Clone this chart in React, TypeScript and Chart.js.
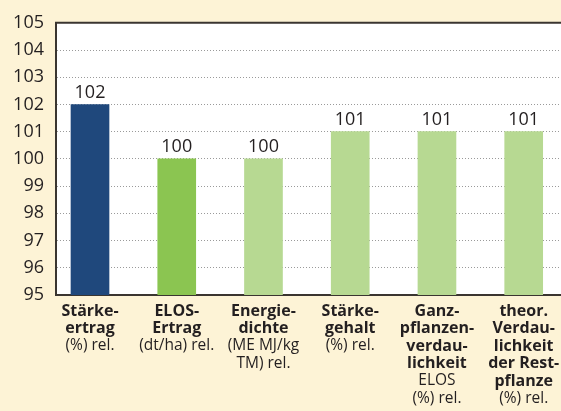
import React, { useEffect, useRef } from "react";
import { Chart, registerables } from "chart.js";

Chart.register(...registerables);

const values = [102, 100, 100, 101, 101, 101];
const barColors = ["#1f487c", "#8bc551", "#b7d992", "#b7d992", "#b7d992", "#b7d992"];
const boldLines = [
  ["Stärke-", "ertrag"],
  ["ELOS-", "Ertrag"],
  ["Energie-", "dichte"],
  ["Stärke-", "gehalt"],
  ["Ganz-", "pflanzen-", "verdau-", "lichkeit"],
  ["theor.", "Verdau-", "lichkeit", "der Rest-", "pflanze"],
];
const normalLines = [
  ["(%) rel."],
  ["(dt/ha) rel."],
  ["(ME MJ/kg", "TM) rel."],
  ["(%) rel."],
  ["ELOS", "(%) rel."],
  ["(%) rel."],
];
const yMin = 95;
const yMax = 105;

const FONT = "'Open Sans', sans-serif";
const TEXT = "#231f20";

export default function App() {
  const ref = useRef<HTMLCanvasElement>(null);
  useEffect(() => {
    document.body.style.margin = "0";
    const canvas = ref.current!;
    const bgPlugin = {
      id: "bg",
      beforeDraw(chart: any) {
        const { ctx, chartArea: a, width, height } = chart;
        ctx.save();
        ctx.fillStyle = "#fdf3d6";
        ctx.fillRect(0, 0, width, height);
        ctx.fillStyle = "#ffffff";
        ctx.fillRect(a.left, a.top, a.right - a.left, a.bottom - a.top);
        ctx.restore();
      },
      afterDraw(chart: any) {
        const { ctx, chartArea: a } = chart;
        ctx.save();
        ctx.strokeStyle = "#3a3530";
        ctx.lineWidth = 2;
        ctx.beginPath();
        ctx.moveTo(a.left - 1, a.top);
        ctx.lineTo(a.right, a.top);
        ctx.stroke();
        ctx.restore();
      },
      afterDatasetsDraw(chart: any) {
        const { ctx } = chart;
        const meta = chart.getDatasetMeta(0);
        const xs = chart.scales.x;
        const base = chart.chartArea.bottom;
        ctx.save();
        ctx.fillStyle = TEXT;
        ctx.textAlign = "center";
        meta.data.forEach((bar: any, i: number) => {
          ctx.font = `18px ${FONT}`;
          ctx.textBaseline = "bottom";
          ctx.fillText(String(values[i]), bar.x, bar.y - 3);
          const cx = xs.getPixelForValue(i);
          let y = base + 16;
          ctx.textBaseline = "middle";
          ctx.font = `bold 16px ${FONT}`;
          boldLines[i].forEach((t) => {
            ctx.fillText(t, cx, y);
            y += 17.5;
          });
          ctx.font = `15.5px ${FONT}`;
          normalLines[i].forEach((t) => {
            ctx.fillText(t, cx, y);
            y += 17.5;
          });
        });
        ctx.restore();
      },
    };
    const chart = new Chart(canvas, {
      type: "bar",
      data: {
        datasets: [
          {
            data: values.map((v, i) => ({ x: i, y: v })),
            backgroundColor: barColors,
            borderWidth: 0,
            barThickness: 38,
          },
        ],
      },
      options: {
        responsive: false,
        animation: false,
        layout: { padding: { top: 19, left: 0, right: 0, bottom: 0 } },
        plugins: { legend: { display: false }, tooltip: { enabled: false } },
        scales: {
          x: {
            type: "linear",
            offset: false,
            min: -0.392,
            max: 5.43,
            ticks: { display: false },
            grid: { display: false, drawTicks: false, offset: false },
            border: { display: true, color: "#3a3530", width: 2 },
            afterFit(s: any) {
              s.height = 116;
            },
          },
          y: {
            min: yMin,
            max: yMax,
            ticks: {
              stepSize: 1,
              padding: 12,
              color: TEXT,
              font: { family: FONT, size: 18 },
            },
            grid: {
              color: "#9a9a9a",
              lineWidth: 1,
              drawTicks: false,
            },
            border: { display: true, color: "#3a3530", width: 2, dash: [1, 2] },
            afterFit(s: any) {
              s.width = 56;
            },
          },
        },
      } as any,
      plugins: [bgPlugin],
    });
    return () => chart.destroy();
  }, []);
  return <canvas ref={ref} width={561} height={411} style={{ display: "block" }} />;
}
